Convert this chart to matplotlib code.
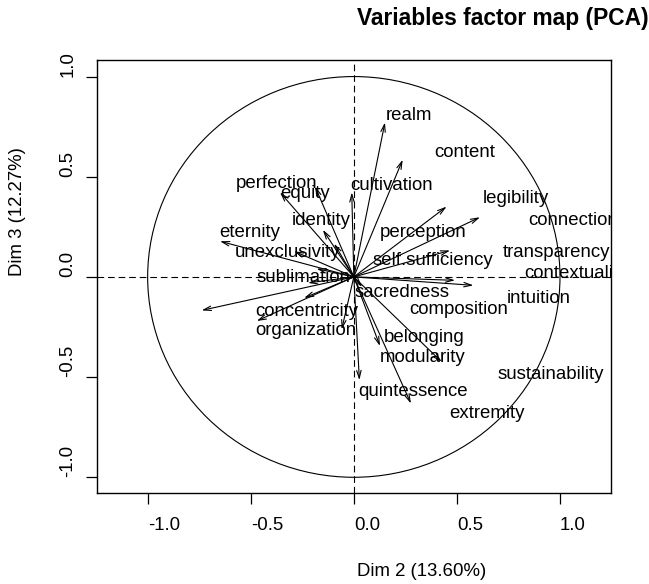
import matplotlib
matplotlib.use("Agg")
import matplotlib.pyplot as plt
from matplotlib.patches import Circle
import numpy as np

plt.rcParams['font.family'] = ['Liberation Sans', 'DejaVu Sans']
plt.rcParams['axes.unicode_minus'] = False

# ---------------- data ----------------
var_names = ["realm", "content", "cultivation", "legibility", "perception",
             "self.sufficiency", "contextuality", "intuition", "sacredness",
             "composition", "belonging", "modularity", "sustainability",
             "quintessence", "extremity", "concentricity", "organization",
             "sublimation", "unexclusivity", "eternity", "identity", "equity",
             "perfection", "connection", "transparency"]
dim2 = [0.151, 0.237, -0.010, 0.612, 0.450, 0.467, 0.580, 0.491, 0.040,
        -0.241, 0.127, 0.426, -0.738, 0.027, 0.277, -0.471, -0.059,
        -0.222, -0.290, -0.649, -0.150, -0.188, -0.358, -0.095, -0.181]
dim3 = [0.771, 0.585, 0.422, 0.298, 0.351, 0.132, -0.042, -0.017, -0.050,
        -0.105, -0.345, -0.424, -0.167, -0.515, -0.632, -0.220, -0.262,
        -0.030, 0.128, 0.178, 0.235, 0.451, 0.422, 0.166, 0.041]

# label placement (layout, after automatic label repulsion)
label_pos = {
    "realm": (0.268, 0.804), "content": (0.537, 0.622),
    "cultivation": (0.182, 0.456), "legibility": (0.784, 0.389),
    "connection": (1.062, 0.281), "perception": (0.337, 0.223),
    "transparency": (0.981, 0.124), "self.sufficiency": (0.382, 0.082),
    "contextuality": (1.076, 0.016), "intuition": (0.895, -0.109),
    "sacredness": (0.232, -0.076), "composition": (0.511, -0.163),
    "belonging": (0.339, -0.303), "modularity": (0.335, -0.402),
    "sustainability": (0.953, -0.486), "quintessence": (0.287, -0.572),
    "extremity": (0.646, -0.681), "concentricity": (-0.230, -0.175),
    "organization": (-0.234, -0.266), "sublimation": (-0.243, -0.001),
    "unexclusivity": (-0.322, 0.124), "eternity": (-0.505, 0.223),
    "identity": (-0.159, 0.281), "equity": (-0.238, 0.414),
    "perfection": (-0.376, 0.464),
}

xticks = [-1.0, -0.5, 0.0, 0.5, 1.0]
yticks = [-1.0, -0.5, 0.0, 0.5, 1.0]
title = "Variables factor map (PCA)"
xlabel = "Dim 2 (13.60%)"
ylabel = "Dim 3 (12.27%)"

FS = 13.4

fig = plt.figure(figsize=(6.49, 5.84), dpi=100)
ax = fig.add_axes([0.150, 0.1553, 0.791, 0.7414])
ax.set_xlim(-1.244, 1.246)
ax.set_ylim(-1.080, 1.081)

# unit circle
ax.add_patch(Circle((0, 0), 1.0, fill=False, lw=0.8, color='black'))
# dashed axes
ax.axhline(0, color='black', lw=0.8, ls=(0, (6, 3.5)))
ax.axvline(0, color='black', lw=0.8, ls=(0, (6, 3.5)))

for n, x, y in zip(var_names, dim2, dim3):
    ax.annotate('', xy=(x, y), xytext=(0, 0),
                arrowprops=dict(arrowstyle='->,head_length=0.55,head_width=0.16',
                                lw=0.8, color='black', shrinkA=0, shrinkB=0))

for n in var_names:
    lx, ly = label_pos[n]
    ax.text(lx, ly, n, ha='center', va='center', fontsize=FS, color='black',
            clip_on=True)

ax.set_xticks(xticks)
ax.set_xticklabels(["%.1f" % v for v in xticks], ha='left')
ax.set_yticks(yticks)
ax.set_yticklabels(["%.1f" % v for v in yticks], rotation=90, va='bottom')
ax.tick_params(direction='out', length=8, width=0.9, labelsize=FS)
ax.tick_params(axis='x', pad=9)
ax.tick_params(axis='y', pad=7)
for s in ax.spines.values():
    s.set_linewidth(1.0)

fig.text(357 / 649, 1 - 19 / 584, title, ha='left', va='center',
         fontsize=16.4, fontweight='bold')
fig.text(357 / 649, 1 - 572 / 584, xlabel, ha='left', va='center', fontsize=FS)
fig.text(18 / 649, 1 - 276.5 / 584, ylabel, ha='center', va='bottom',
         fontsize=FS, rotation=90)

fig.savefig("out.png", dpi=100)
